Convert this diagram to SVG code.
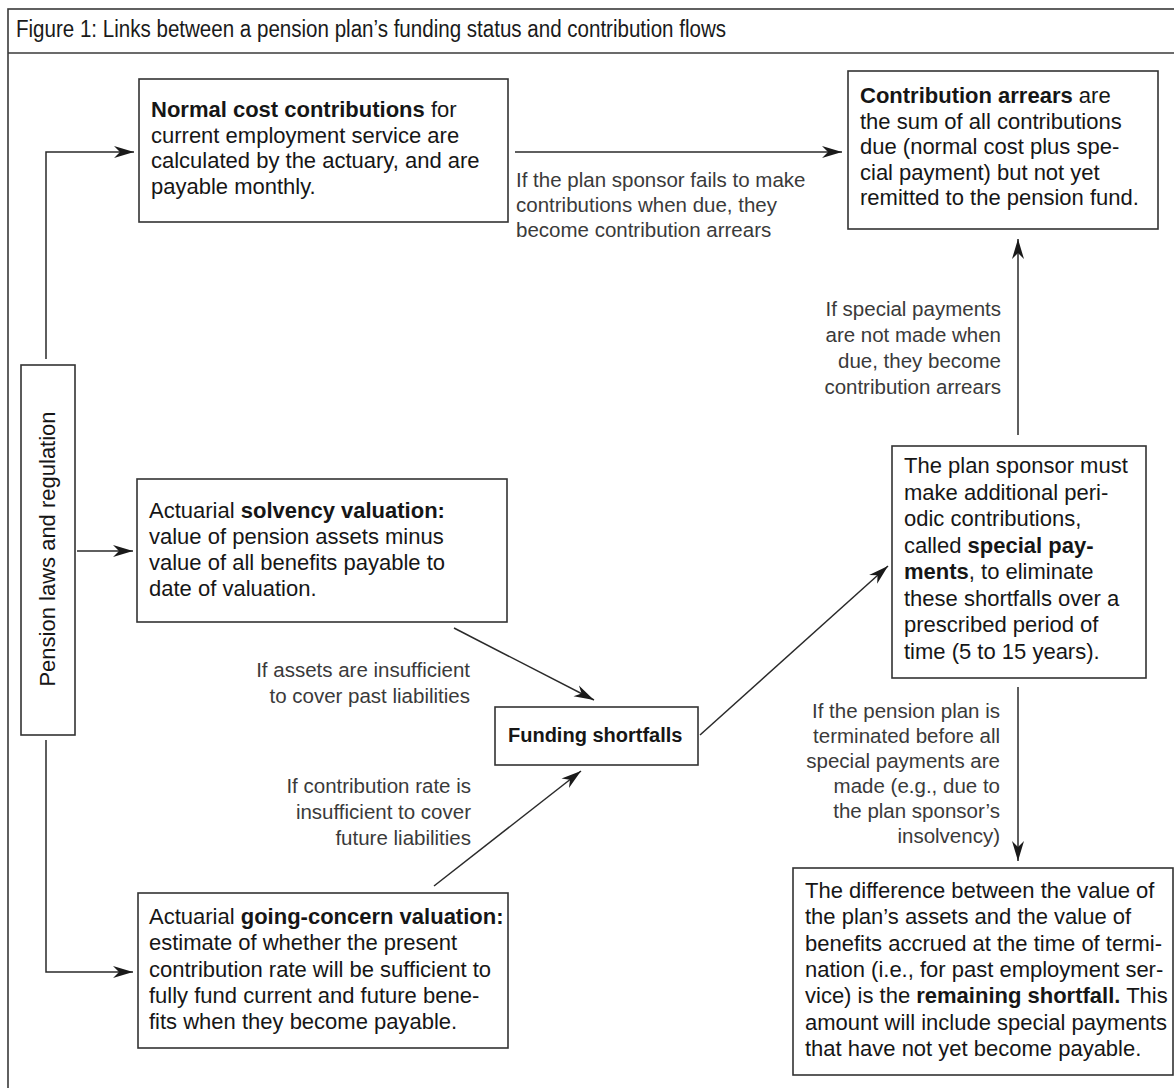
<svg xmlns="http://www.w3.org/2000/svg" width="1174" height="1088" viewBox="0 0 1174 1088">
<style>
.frame{fill:none;stroke:#3a3a3a;stroke-width:1.6}
.box{fill:#fff;stroke:#333;stroke-width:1.6}
.bt{font-family:"Liberation Sans",Arial,sans-serif;font-size:22px;fill:#161616}
.b{font-weight:bold}
.lb{font-family:"Liberation Sans",Arial,sans-serif;font-size:20.5px;fill:#3a3a3a}
.r{text-anchor:end}
.con{fill:none;stroke:#2a2a2a;stroke-width:1.5}
.title{font-family:"Liberation Sans",Arial,sans-serif;font-size:23px;fill:#1a1a1a}
</style>
<defs>
<marker id="ah" markerWidth="22" markerHeight="14" refX="20" refY="7" orient="auto" markerUnits="userSpaceOnUse">
<path d="M0,1 L20,7 L0,13 L6,7 Z" fill="#1a1a1a"/>
</marker>
</defs>
<rect width="1174" height="1088" fill="#fff"/>
<g id="frame">
<rect class="frame" x="8" y="9" width="1175" height="1095"/>
<line class="frame" x1="8" y1="53" x2="1174" y2="53"/>
<text class="title" x="16" y="37" textLength="710" lengthAdjust="spacingAndGlyphs">Figure 1: Links between a pension plan’s funding status and contribution flows</text>
</g>
<g id="connectors">
<path class="con" d="M46,359 V152 H134" marker-end="url(#ah)"/>
<path class="con" d="M77,551 H133" marker-end="url(#ah)"/>
<path class="con" d="M46,740 V972 H133" marker-end="url(#ah)"/>
<path class="con" d="M515,152 H842" marker-end="url(#ah)"/>
<path class="con" d="M1018,435 V239" marker-end="url(#ah)"/>
<path class="con" d="M1018,687 V861" marker-end="url(#ah)"/>
<path class="con" d="M454,628 L594,700" marker-end="url(#ah)"/>
<path class="con" d="M434,886 L581,771" marker-end="url(#ah)"/>
<path class="con" d="M700,735 L888,566" marker-end="url(#ah)"/>
</g>
<g id="labels">
<text class="lb" x="516" y="187">If the plan sponsor fails to make</text>
<text class="lb" x="516" y="212">contributions when due, they</text>
<text class="lb" x="516" y="237">become contribution arrears</text>
<text class="lb r" x="1001" y="316">If special payments</text>
<text class="lb r" x="1001" y="342">are not made when</text>
<text class="lb r" x="1001" y="368">due, they become</text>
<text class="lb r" x="1001" y="394">contribution arrears</text>
<text class="lb r" x="470" y="677">If assets are insufficient</text>
<text class="lb r" x="470" y="703">to cover past liabilities</text>
<text class="lb r" x="471" y="793">If contribution rate is</text>
<text class="lb r" x="471" y="819">insufficient to cover</text>
<text class="lb r" x="471" y="845">future liabilities</text>
<text class="lb r" x="1000" y="718">If the pension plan is</text>
<text class="lb r" x="1000" y="743">terminated before all</text>
<text class="lb r" x="1000" y="768">special payments are</text>
<text class="lb r" x="1000" y="793">made (e.g., due to</text>
<text class="lb r" x="1000" y="818">the plan sponsor’s</text>
<text class="lb r" x="1000" y="843">insolvency)</text>
</g>
<g id="pension-laws">
<rect class="box" x="21" y="365" width="54" height="370"/>
<text class="bt" transform="translate(55,549) rotate(-90)" text-anchor="middle">Pension laws and regulation</text>
</g>
<g id="normal-cost">
<rect class="box" x="139" y="79" width="369" height="143"/>
<text class="bt" x="151" y="117"><tspan class="b">Normal cost contributions</tspan> for</text>
<text class="bt" x="151" y="142.7">current employment service are</text>
<text class="bt" x="151" y="168.4">calculated by the actuary, and are</text>
<text class="bt" x="151" y="194">payable monthly.</text>
</g>
<g id="arrears">
<rect class="box" x="848" y="71" width="310" height="158"/>
<text class="bt" x="860" y="103"><tspan class="b">Contribution arrears</tspan> are</text>
<text class="bt" x="860" y="128.5">the sum of all contributions</text>
<text class="bt" x="860" y="154">due (normal cost plus spe-</text>
<text class="bt" x="860" y="179.5">cial payment) but not yet</text>
<text class="bt" x="860" y="205">remitted to the pension fund.</text>
</g>
<g id="solvency">
<rect class="box" x="137" y="479" width="370" height="143"/>
<text class="bt" x="149" y="518">Actuarial <tspan class="b">solvency valuation:</tspan></text>
<text class="bt" x="149" y="544">value of pension assets minus</text>
<text class="bt" x="149" y="570">value of all benefits payable to</text>
<text class="bt" x="149" y="596">date of valuation.</text>
</g>
<g id="special-payments">
<rect class="box" x="892" y="446" width="254" height="232"/>
<text class="bt" x="904" y="473">The plan sponsor must</text>
<text class="bt" x="904" y="499.5">make additional peri-</text>
<text class="bt" x="904" y="526">odic contributions,</text>
<text class="bt" x="904" y="552.5">called <tspan class="b">special pay-</tspan></text>
<text class="bt" x="904" y="579"><tspan class="b">ments</tspan>, to eliminate</text>
<text class="bt" x="904" y="605.5">these shortfalls over a</text>
<text class="bt" x="904" y="632">prescribed period of</text>
<text class="bt" x="904" y="658.5">time (5 to 15 years).</text>
</g>
<g id="funding-shortfalls">
<rect class="box" x="495" y="707" width="203" height="58"/>
<text class="bt b" x="508" y="742" style="font-size:20px">Funding shortfalls</text>
</g>
<g id="going-concern">
<rect class="box" x="138" y="893" width="370" height="155"/>
<text class="bt" x="149" y="924">Actuarial <tspan class="b">going-concern valuation:</tspan></text>
<text class="bt" x="149" y="950.3">estimate of whether the present</text>
<text class="bt" x="149" y="976.6">contribution rate will be sufficient to</text>
<text class="bt" x="149" y="1002.9">fully fund current and future bene-</text>
<text class="bt" x="149" y="1029.2">fits when they become payable.</text>
</g>
<g id="remaining-shortfall">
<rect class="box" x="793" y="868" width="380" height="207"/>
<text class="bt" x="805" y="898">The difference between the value of</text>
<text class="bt" x="805" y="924.3">the plan’s assets and the value of</text>
<text class="bt" x="805" y="950.6">benefits accrued at the time of termi-</text>
<text class="bt" x="805" y="976.9">nation (i.e., for past employment ser-</text>
<text class="bt" x="805" y="1003.2">vice) is the <tspan class="b">remaining shortfall.</tspan> This</text>
<text class="bt" x="805" y="1029.5">amount will include special payments</text>
<text class="bt" x="805" y="1055.8">that have not yet become payable.</text>
</g>
</svg>
